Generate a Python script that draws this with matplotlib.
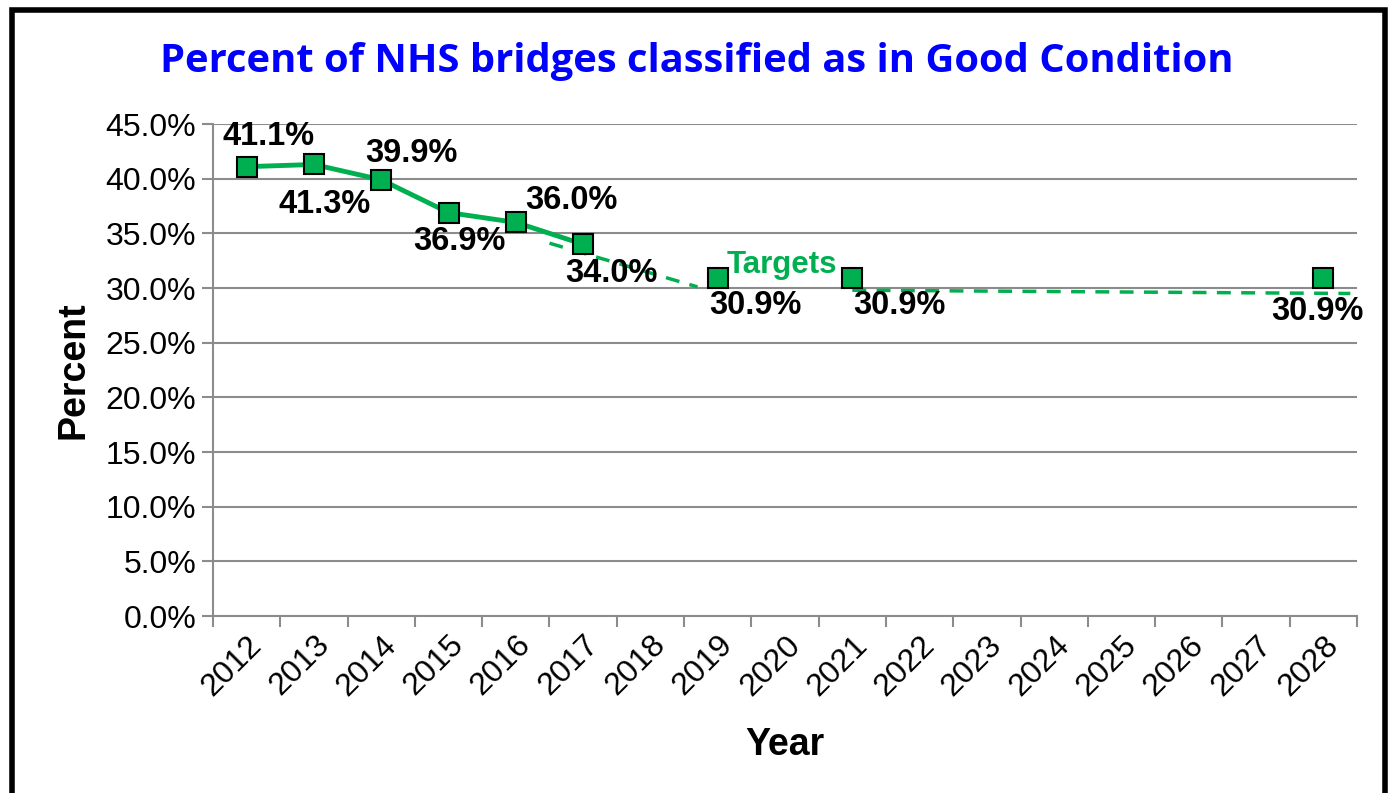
import matplotlib.pyplot as plt
from matplotlib.patches import Rectangle

plt.rcParams['font.family'] = ['Liberation Sans', 'DejaVu Sans']

# chart data
years = [str(y) for y in range(2012, 2029)]
actual_idx = [0, 1, 2, 3, 4, 5]
actual_vals = [41.1, 41.3, 39.9, 36.9, 36.0, 34.0]
target_idx = [7, 9, 16]
target_vals = [30.9, 30.9, 30.9]
# dashed target line
trend_x1 = [4.5, 6.7]
trend_y1 = [34.1, 30.1]
trend_x2 = [9.0, 16.4]
trend_y2 = [29.8, 29.5]

green = '#00B050'
grey = '#8C8C8C'

fig = plt.figure(figsize=(13.94, 7.93), dpi=100)
ax = fig.add_axes([0.1528, 0.2232, 0.8207, 0.6204])

ax.plot(trend_x1, trend_y1, color=green, lw=2.5, ls=(0, (4, 3)), zorder=2)
ax.plot(trend_x2, trend_y2, color=green, lw=2.5, ls=(0, (4, 3)), zorder=2)
ax.plot(actual_idx, actual_vals, color=green, lw=3.5, marker='s', ms=14,
        mfc=green, mec='black', mew=1.5, zorder=3)
ax.plot(target_idx, target_vals, ls='none', marker='s', ms=14,
        mfc=green, mec='black', mew=1.5, zorder=3)

# data labels: (x offset, y offset) in points
offsets = [(16, 22), (8, -29), (22, 19), (8, -21), (40, 16), (20, -21)]
for i, v, off in zip(actual_idx, actual_vals, offsets):
    ax.annotate('{:.1f}%'.format(v), (i, v), xytext=off, textcoords='offset points',
                ha='center', va='center', fontsize=23.5, fontweight='bold')
t_offsets = [(27, -20), (34, -20), (-4, -24)]
for i, v, off in zip(target_idx, target_vals, t_offsets):
    ax.annotate('{:.1f}%'.format(v), (i, v), xytext=off, textcoords='offset points',
                ha='center', va='center', fontsize=23.5, fontweight='bold')

ax.text(7.96, 32.1, 'Targets', color=green, fontsize=22.5, fontweight='bold',
        ha='center', va='center', zorder=4)

ax.set_xlim(-0.5, 16.5)
ax.set_ylim(0, 45)
ax.set_yticks([i * 5 for i in range(10)])
ax.set_yticklabels(['{:.1f}%'.format(i * 5) for i in range(10)], fontsize=23)
ax.set_xticks(range(len(years)))
ax.set_xticklabels(years, rotation=45, ha='right', rotation_mode='anchor', fontsize=23)
ax.set_xticks([i - 0.5 for i in range(len(years) + 1)], minor=True)
ax.tick_params(axis='x', which='major', length=0, pad=10)
ax.tick_params(axis='x', which='minor', length=8, width=1.5, color=grey)
ax.tick_params(axis='y', length=8, width=1.5, color=grey, pad=4)

ax.grid(axis='y', color=grey, lw=1.5)
ax.set_axisbelow(True)
for s in ['top', 'right']:
    ax.spines[s].set_visible(False)
for s in ['left', 'bottom']:
    ax.spines[s].set_color(grey)
    ax.spines[s].set_linewidth(1.5)

ax.set_xlabel('Year', fontsize=27, fontweight='bold', labelpad=18)
ax.set_ylabel('Percent', fontsize=27, fontweight='bold', labelpad=10)

fig.text(0.5, 0.923, 'Percent of NHS bridges classified as in Good Condition',
         ha='center', va='center', color='#0000FF', fontsize=28.7, fontweight='bold',
         family=['Open Sans', 'DejaVu Sans'])

fig.patches.append(Rectangle((0.0085, -0.02), 0.985, 1.008, transform=fig.transFigure,
                             fill=False, ec='black', lw=4))

fig.savefig('out.png', dpi=100)
